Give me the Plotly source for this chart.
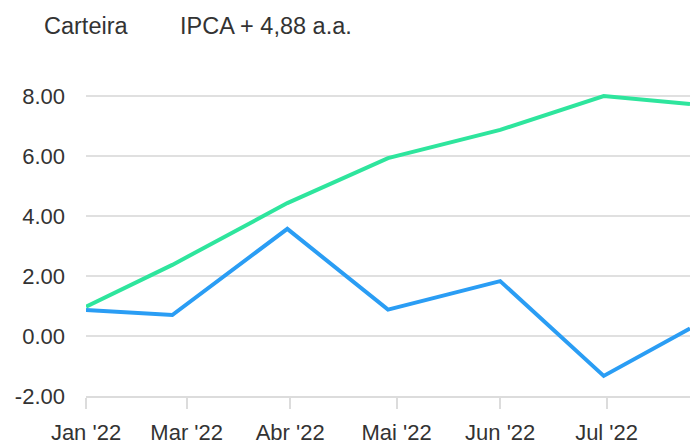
import plotly.graph_objects as go

dates = ["2022-01-01", "2022-01-31", "2022-03-12", "2022-04-16", "2022-05-25", "2022-06-30", "2022-07-30"]
carteira = [0.87, 0.70, 3.57, 0.88, 1.83, -1.33, 0.25]
ipca = [0.98, 2.37, 4.43, 5.93, 6.87, 8.00, 7.73]

tick_dates = ["2022-01-01", "2022-02-05", "2022-03-13", "2022-04-19", "2022-05-25", "2022-07-01"]
tick_text = ["Jan '22", "Mar '22", "Abr '22", "Mai '22", "Jun '22", "Jul '22"]
y_ticks = [-2, 0, 2, 4, 6, 8]
legend_names = ["Carteira", "IPCA + 4,88 a.a."]

BLUE = "#2a9df4"
GREEN = "#2ee59d"
TXT = "#333333"
FONT = "Liberation Sans, Arial, sans-serif"

fig = go.Figure()
fig.add_trace(go.Scatter(x=dates, y=ipca, mode="lines", name=legend_names[1],
                         line=dict(color=GREEN, width=4), showlegend=False))
fig.add_trace(go.Scatter(x=dates, y=carteira, mode="lines", name=legend_names[0],
                         line=dict(color=BLUE, width=4), showlegend=False))

fig.update_layout(
    width=690, height=447,
    margin=dict(l=86, r=0, t=90, b=51),
    paper_bgcolor="white", plot_bgcolor="white",
    font=dict(family=FONT, color=TXT),
    xaxis=dict(
        type="date", automargin=False,
        range=[dates[0], dates[-1]],
        tickvals=tick_dates, ticktext=tick_text,
        showgrid=False, zeroline=False,
        showline=True, linecolor="#dcdcdc", linewidth=2,
        ticks="outside", ticklen=11, tickcolor="#dcdcdc", tickwidth=1.5,
        tickfont=dict(size=22, color=TXT),
        ticklabelstandoff=5,
    ),
    yaxis=dict(
        automargin=False,
        range=[-2, 8.2],
        tickvals=y_ticks, ticktext=[f"{v:.2f}" for v in y_ticks],
        showgrid=True, gridcolor="#e0e0e0", gridwidth=1.5,
        zeroline=False, showline=False,
        tickfont=dict(size=22, color=TXT),
        ticklabelstandoff=20,
    ),
)

for name, xpx in zip(legend_names, [42, 178]):
    fig.add_annotation(text=name, xref="paper", yref="paper",
                       x=(xpx - 86) / 604, y=(396 - 26) / 306,
                       xanchor="left", yanchor="middle", showarrow=False,
                       font=dict(size=23.5, color=TXT, family=FONT))

fig.write_html("out.html", config={"displayModeBar": False},
               post_script="document.body.style.margin='0px';document.body.style.overflow='hidden';")
